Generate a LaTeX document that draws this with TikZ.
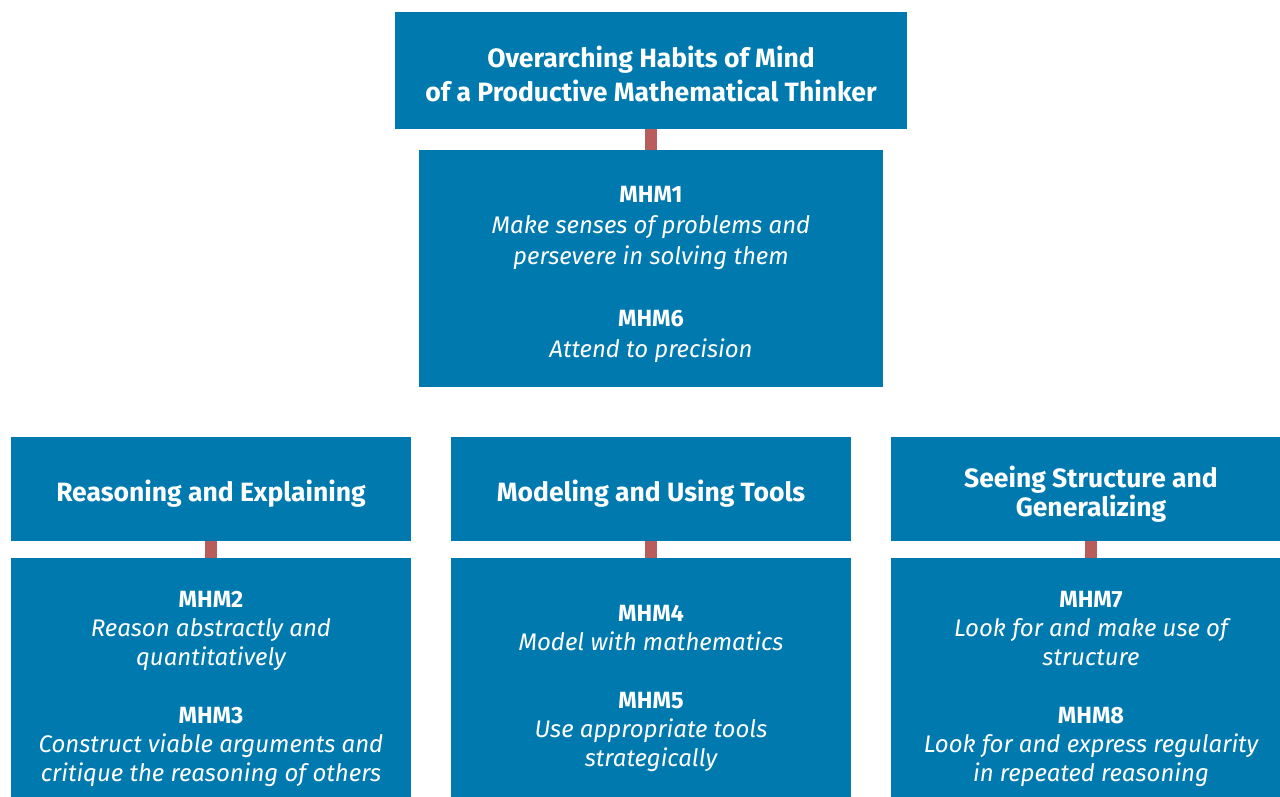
\documentclass[tikz,border=0pt]{standalone}
\usepackage{fontspec}
\setmainfont{Fira Sans}
\definecolor{mblue}{RGB}{0,122,174}
\definecolor{mred}{RGB}{184,92,92}
\tikzset{
  x=1pt, y=-1pt,
  boxbase/.style={fill=mblue, inner sep=0pt},
  headbox/.style={boxbase, minimum width=400pt, minimum height=104pt},
  itembox/.style={boxbase, minimum width=400pt, minimum height=253pt},
  boxtext/.style={text=white, inner sep=0pt, align=center},
  headtext/.style={boxtext, font=\bfseries\fontsize{26.5}{29}\selectfont},
  itemtext/.style={boxtext, font=\itshape\fontsize{24}{29}\selectfont},
  link/.style={draw=mred, line width=12pt},
}
\newcommand{\mhmlab}[1]{{\upshape\bfseries\fontsize{23.5}{29}\selectfont #1}}
\begin{document}
\begin{tikzpicture}
\useasboundingbox (0,0) rectangle (1280,797);
\begin{scope}
\clip (0,0) rectangle (1280,797);
\node[boxbase, minimum width=512pt, minimum height=117pt] (top) at (651,70.5) {};
\node[boxbase, minimum width=464pt, minimum height=237pt] (mid) at (651,268.5) {};
\node[headbox] (h1) at (211,489) {};
\node[headbox] (h2) at (651,489) {};
\node[headbox] (h3) at (1091,489) {};
\node[itembox] (b1) at (211,684.5) {};
\node[itembox] (b2) at (651,684.5) {};
\node[itembox] (b3) at (1091,684.5) {};

\node[boxtext, font=\bfseries\fontsize{26.5}{34}\selectfont] (toptext) at ([yshift=-3pt]top.center) {Overarching Habits of Mind\\of a Productive Mathematical Thinker};
\node[boxtext, font=\itshape\fontsize{24}{31}\selectfont] (midtext) at ([yshift=-6pt]mid.center) {\mhmlab{MHM1}\\Make senses of problems and\\persevere in solving them\\[31pt]\mhmlab{MHM6}\\Attend to precision};

\node[headtext] (h1text) at ([yshift=-5pt]h1.center) {Reasoning and Explaining};
\node[headtext] (h2text) at ([yshift=-5pt]h2.center) {Modeling and Using Tools};
\node[headtext] (h3text) at ([yshift=-5pt]h3.center) {Seeing Structure and\\Generalizing};

\node[itemtext] (b1text) at ([yshift=-4pt]b1.center) {\mhmlab{MHM2}\\Reason abstractly and\\quantitatively\\[29pt]\mhmlab{MHM3}\\Construct viable arguments and\\critique the reasoning of others};
\node[itemtext] (b2text) at ([yshift=-4pt]b2.center) {\mhmlab{MHM4}\\Model with mathematics\\[29pt]\mhmlab{MHM5}\\Use appropriate tools\\strategically};
\node[itemtext] (b3text) at ([yshift=-4pt]b3.center) {\mhmlab{MHM7}\\Look for and make use of\\structure\\[29pt]\mhmlab{MHM8}\\Look for and express regularity\\in repeated reasoning};

\draw[link] (top.south) -- (mid.north);
\draw[link] (h1.south) -- (b1.north);
\draw[link] (h2.south) -- (b2.north);
\draw[link] (h3.south) -- (b3.north);
\end{scope}
\end{tikzpicture}
\end{document}
